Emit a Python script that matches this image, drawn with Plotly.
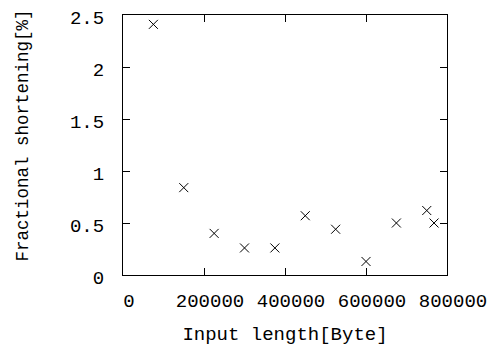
import plotly.graph_objects as go

input_length = [75000, 150000, 225000, 300000, 375000, 450000, 525000, 600000, 675000, 750000, 768000]
fractional_shortening = [2.41, 0.84, 0.40, 0.26, 0.26, 0.57, 0.44, 0.13, 0.50, 0.62, 0.50]

x_ticks = [0, 200000, 400000, 600000, 800000]
y_ticks = [0, 0.5, 1, 1.5, 2, 2.5]
x_title = "Input length[Byte]"
y_title = "Fractional shortening[%]"

FONT = "Liberation Mono"

fig = go.Figure(
    go.Scatter(
        x=input_length,
        y=fractional_shortening,
        mode="markers",
        marker=dict(symbol="x-thin-open", size=9, color="black",
                    line=dict(color="black", width=1)),
        showlegend=False,
    )
)

axis_common = dict(
    showline=True, linecolor="black", linewidth=1.2, mirror="ticks",
    ticks="inside", ticklen=7, tickwidth=1.2, tickcolor="black",
    showgrid=False, zeroline=False, automargin=False,
    ticklabeloverflow="allow",
)

# page body has an 8px default margin, so the figure is shifted by 8px
fig.update_layout(
    width=488, height=343,
    margin=dict(l=115, r=49, t=7, b=76),
    paper_bgcolor="white", plot_bgcolor="white",
    font=dict(family=FONT, color="black", size=19),
    xaxis=dict(range=[0, 800000], tickvals=x_ticks,
               ticktext=[str(v) for v in x_ticks],
               ticklabelstandoff=8, ticklabelshift=6,
               title=dict(text=x_title, font=dict(size=19), standoff=14),
               tickfont=dict(size=19), **axis_common),
    yaxis=dict(range=[0, 2.5], tickvals=y_ticks,
               ticktext=["0", "0.5", "1", "1.5", "2", "2.5"],
               ticklabelstandoff=14, ticklabelshift=2,
               tickfont=dict(size=19), **axis_common),
    annotations=[dict(
        text=y_title, textangle=-90, showarrow=False,
        xref="paper", yref="paper", x=-0.309, y=0.536,
        xanchor="center", yanchor="middle",
        font=dict(family=FONT, size=17.5, color="black"),
    )],
)

fig.write_html("out.html")
